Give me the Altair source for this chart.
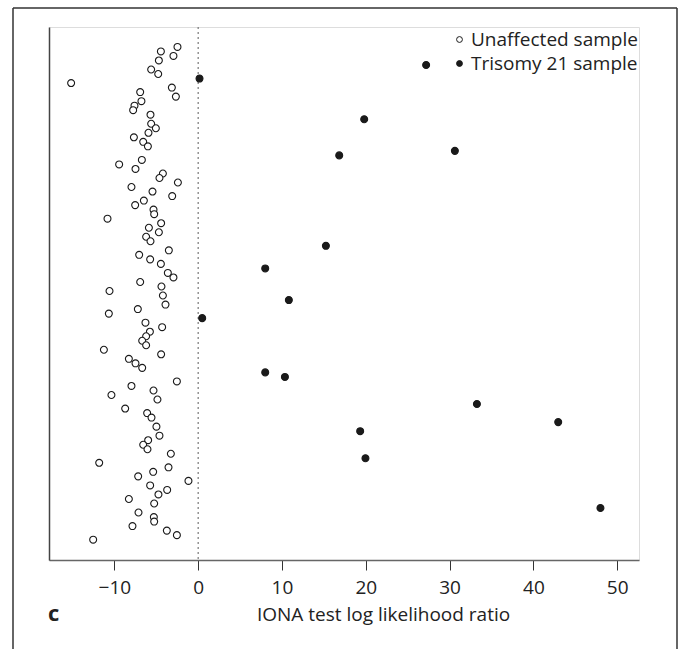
import altair as alt
import pandas as pd

# IONA log likelihood ratio per sample, in plotting order (top to bottom)
llr_values = [
    -2.47, -4.45, -2.95, -4.69, 27.2, -5.61, -4.77, 0.16, -15.16, -3.14,
    -6.92, -2.66, -6.77, -7.60, -7.76, -5.69, 19.81, -5.61, -5.05, -5.93,
    -7.67, -6.56, -6.00, 30.63, 16.83, -6.72, -9.43, -7.48, -4.21, -4.62,
    -2.42, -7.96, -5.45, -3.10, -6.48, -7.52, -5.33, -5.25, -10.82, -4.42,
    -5.88, -4.69, -6.21, -5.69, 15.24, -3.50, -7.04, -5.73, -4.45, 8.00,
    -3.62, -2.95, -6.92, -4.38, -10.58, -4.21, 10.82, -3.90, -7.20, -10.66,
    0.48, -6.29, -4.30, -5.76, -6.21, -6.68, -6.21, -11.25, -4.42, -8.27,
    -7.48, -6.68, 8.00, 10.35, -2.54, -7.96, -5.33, -10.35, -4.86, 33.26,
    -8.71, -6.09, -5.57, 42.96, -4.98, 19.33, -4.62, -5.97, -6.56, -6.05,
    -3.26, 19.96, -11.81, -3.54, -5.37, -7.16, -1.16, -5.73, -3.70, -4.74,
    -8.27, -5.25, 48.0, -7.12, -5.29, -5.25, -7.84, -3.74, -2.54, -12.53,
]

# positions (0-based) of the trisomy 21 samples in the list above
trisomy_positions = [4, 7, 16, 23, 24, 44, 49, 56, 60, 72, 73, 79, 83, 85, 91, 102]

group_labels = ["Unaffected sample", "Trisomy 21 sample"]
x_ticks = [-10, 0, 10, 20, 30, 40, 50]

df = pd.DataFrame({
    "sample": list(range(len(llr_values))),
    "llr": llr_values,
    "group": [group_labels[1] if i in trisomy_positions else group_labels[0]
              for i in range(len(llr_values))],
})

FONT = "Open Sans"
W, H = 590, 533

x_scale = alt.Scale(domain=[-17.8, 52.6], nice=False, zero=False)
y_scale = alt.Scale(domain=[-4.4, 113.5], nice=False, zero=False, reverse=True)

points = alt.Chart(df).mark_point(
    filled=True, stroke="#1a1a1a", strokeWidth=1.1, opacity=1, size=48
).encode(
    x=alt.X(
        "llr:Q", scale=x_scale,
        axis=alt.Axis(
            values=x_ticks, title="IONA test log likelihood ratio",
            grid=False, domainColor="#666666", domainWidth=1.5,
            tickColor="#333333", tickSize=10, tickWidth=1,
            labelFont=FONT, labelFontSize=19, labelColor="#222222", labelPadding=8,
            titleFont=FONT, titleFontSize=19, titleFontWeight="normal",
            titleColor="#222222", titleX=334, titleY=60, titleBaseline="alphabetic",
        ),
    ),
    y=alt.Y(
        "sample:Q", scale=y_scale,
        axis=alt.Axis(
            title=None, labels=False, ticks=False, grid=False,
            domainColor="#444444", domainWidth=1.5,
        ),
    ),
    fill=alt.Fill(
        "group:N",
        scale=alt.Scale(domain=group_labels, range=["white", "#1a1a1a"]),
        legend=alt.Legend(
            title=None, orient="none", legendX=401, legendY=3,
            labelFont=FONT, labelFontSize=19, labelColor="#222222",
            labelOffset=2, labelLimit=0, symbolType="circle", symbolSize=34,
            symbolStrokeColor="#1a1a1a", symbolStrokeWidth=1,
            rowPadding=4, padding=0,
        ),
    ),
)

# dotted reference line at zero
zero_df = pd.DataFrame({"x": [0]})
zero_line = alt.Chart(zero_df).mark_rule(
    color="#777777", strokeDash=[2, 3], strokeWidth=1.2
).encode(x=alt.X("x:Q", scale=x_scale))

# outer panel frame (left, top, right)
frame_left = alt.Chart().mark_rule(color="#333333", strokeWidth=1.5).encode(
    x=alt.value(-36), y=alt.value(-19), y2=alt.value(630)
)
frame_top = alt.Chart().mark_rule(color="#333333", strokeWidth=1.5).encode(
    x=alt.value(-36), x2=alt.value(628), y=alt.value(-19)
)
frame_right = alt.Chart().mark_rule(color="#333333", strokeWidth=1.5).encode(
    x=alt.value(628), y=alt.value(-19), y2=alt.value(630)
)

# panel letter
panel_label = alt.Chart().mark_text(
    text="c", font=FONT, fontSize=22, fontWeight="bold", color="#222222",
    align="left", baseline="alphabetic"
).encode(x=alt.value(-1), y=alt.value(594))

chart = alt.layer(
    zero_line, points, frame_left, frame_top, frame_right, panel_label
).properties(
    width=W, height=H,
    autosize=alt.AutoSizeParams(type="none"),
    padding={"left": 49, "top": 27, "right": 39, "bottom": 89},
).configure_view(strokeWidth=0).configure(background="white")

chart.save("out.html", embed_options={"renderer": "svg", "actions": False})
